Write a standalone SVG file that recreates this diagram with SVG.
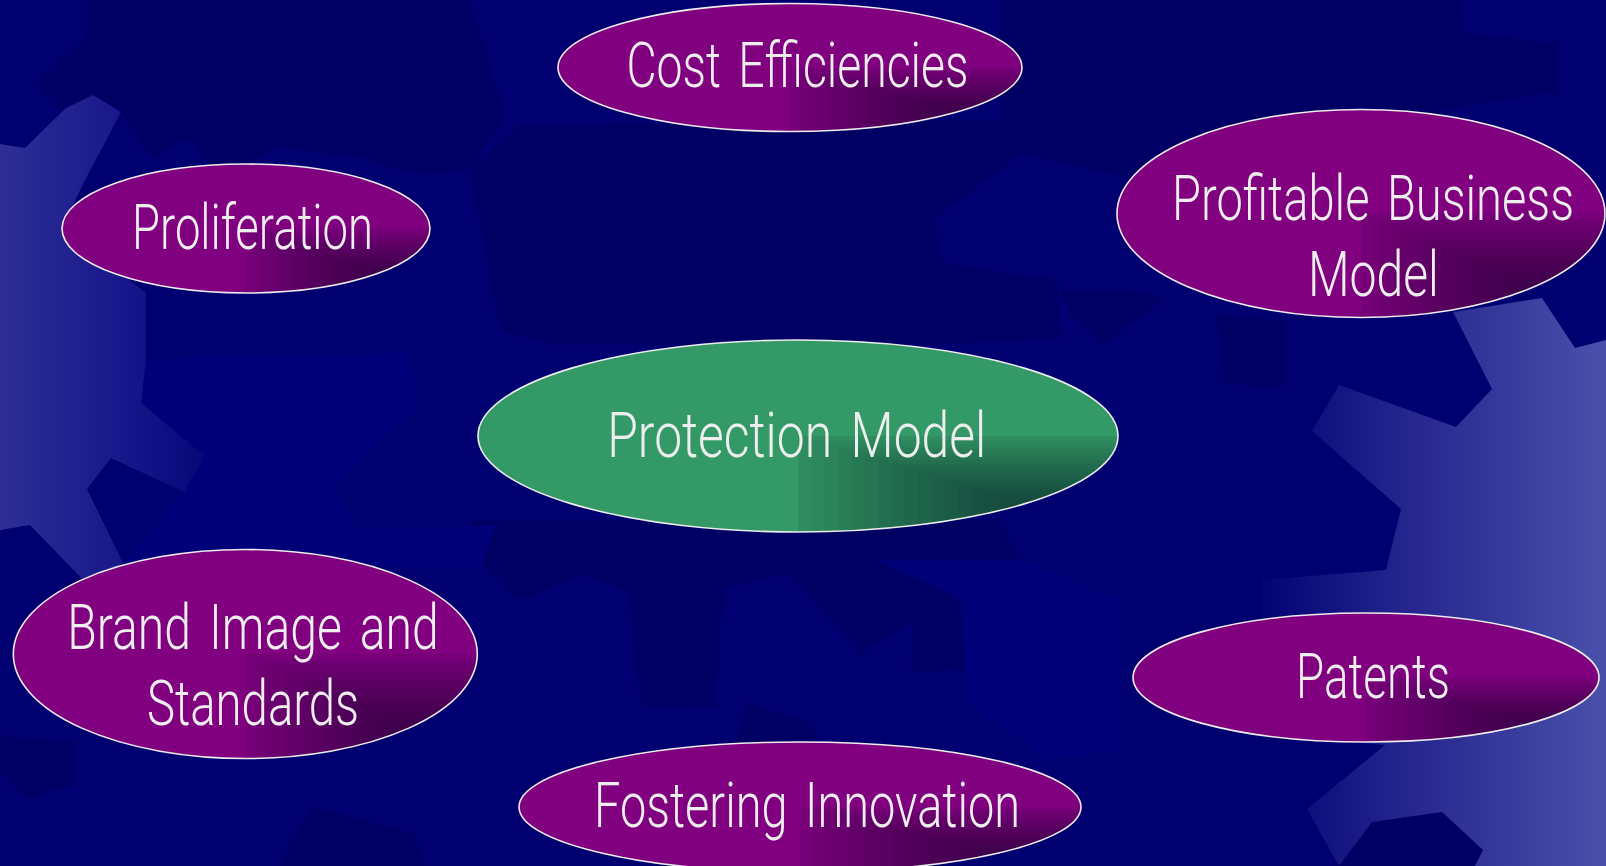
<svg xmlns="http://www.w3.org/2000/svg" xmlns:xlink="http://www.w3.org/1999/xlink" width="1606" height="866" viewBox="0 0 1606 866">
<style>
.dk{fill:#000064}
.lt{fill:#000078}
.pu{fill:#800080}
.gr{fill:#339966}
.ol{fill:none;stroke:#ececec;stroke-width:1.6}
.t{font-family:Roboto,"Liberation Sans",Arial,sans-serif;font-weight:300;font-size:63px;word-spacing:8px;fill:#eeeeee;text-anchor:middle}
</style>
<defs>
<linearGradient id="lg" gradientUnits="userSpaceOnUse" x1="0" y1="0" x2="235" y2="0">
<stop offset="0" stop-color="#2e2e96"/>
<stop offset="0.55" stop-color="#16168a"/>
<stop offset="1" stop-color="#000070"/>
</linearGradient>
<linearGradient id="rg" gradientUnits="userSpaceOnUse" x1="1250" y1="0" x2="1606" y2="0">
<stop offset="0" stop-color="#000072"/>
<stop offset="0.4" stop-color="#22228c"/>
<stop offset="1" stop-color="#4a50aa"/>
</linearGradient>
<clipPath id="uc"><circle cx="0" cy="0" r="1"/></clipPath>
<g id="shade" fill="#00001a">
<rect x="0" y="0" width="1" height="1" fill-opacity="0.08"/>
<rect x="0.042" y="0.042" width="0.958" height="0.958" fill-opacity="0.036"/>
<rect x="0.083" y="0.083" width="0.917" height="0.917" fill-opacity="0.036"/>
<rect x="0.125" y="0.125" width="0.875" height="0.875" fill-opacity="0.036"/>
<rect x="0.167" y="0.167" width="0.833" height="0.833" fill-opacity="0.036"/>
<rect x="0.208" y="0.208" width="0.792" height="0.792" fill-opacity="0.036"/>
<rect x="0.25" y="0.25" width="0.75" height="0.75" fill-opacity="0.036"/>
<rect x="0.292" y="0.292" width="0.708" height="0.708" fill-opacity="0.036"/>
<rect x="0.333" y="0.333" width="0.667" height="0.667" fill-opacity="0.036"/>
<rect x="0.375" y="0.375" width="0.625" height="0.625" fill-opacity="0.036"/>
<rect x="0.417" y="0.417" width="0.583" height="0.583" fill-opacity="0.036"/>
<rect x="0.458" y="0.458" width="0.542" height="0.542" fill-opacity="0.036"/>
<rect x="0.5" y="0.5" width="0.5" height="0.5" fill-opacity="0.036"/>
<rect x="0.542" y="0.542" width="0.458" height="0.458" fill-opacity="0.036"/>
<rect x="0.583" y="0.583" width="0.417" height="0.417" fill-opacity="0.036"/>
<rect x="0.625" y="0.625" width="0.375" height="0.375" fill-opacity="0.036"/>
<rect x="0.667" y="0.667" width="0.333" height="0.333" fill-opacity="0.036"/>
<rect x="0.708" y="0.708" width="0.292" height="0.292" fill-opacity="0.036"/>
<rect x="0.75" y="0.75" width="0.25" height="0.25" fill-opacity="0.036"/>
<rect x="0.792" y="0.792" width="0.208" height="0.208" fill-opacity="0.036"/>
<rect x="0.833" y="0.833" width="0.167" height="0.167" fill-opacity="0.036"/>
<rect x="0.875" y="0.875" width="0.125" height="0.125" fill-opacity="0.036"/>
<rect x="0.917" y="0.917" width="0.083" height="0.083" fill-opacity="0.036"/>
<rect x="0.958" y="0.958" width="0.042" height="0.042" fill-opacity="0.036"/>
</g>
</defs>

<g id="background">
<rect x="0" y="0" width="1606" height="866" fill="#000070"/>
<polygon class="dk" points="86,0 470,0 505,115 470,170 420,175 357,157 275,147 221,180 187,137 154,160 121,112 93,95 60,110 36,83 86,37"/>
<polygon class="dk" points="520,125 1000,120 1022,153 934,218 943,263 1058,280 1059,338 930,345 560,345 500,330 470,170"/>
<polygon class="dk" points="1000,0 1460,0 1464,33 1557,44 1558,91 1467,105 1180,190 1022,153 1000,120"/>
<polygon class="dk" points="1217,315 1285,320 1283,387 1223,384"/>
<polygon class="dk" points="1060,290 1071,315 1105,345 1164,298 1130,290"/>
<polygon class="dk" points="470,520 1000,520 1020,560 911,623 862,653 835,625 788,572 724,588 715,708 641,705 628,590 581,575 520,600 480,560"/>
<polygon class="dk" points="913,603 960,600 965,670 911,672"/>
<polygon class="dk" points="746,703 813,723 820,748 735,745"/>
<polygon class="dk" points="0,735 77,743 75,784 30,798 0,773"/>
<polygon class="dk" points="280,866 289,845 311,806 414,834 425,866"/>
<polygon class="lt" points="146,359 411,353 416,409 332,486 357,530 495,525 480,570 250,560 123,563 184,492 205,456 141,403"/>
<polygon class="lt" points="875,560 1020,560 1120,600 1120,750 1050,760 965,700 965,600"/>
<polygon fill="url(#lg)" points="0,144 25,148 66,108 93,95 121,112 84,182 62,228 146,293 146,359 141,403 205,456 184,492 111,458 87,489 123,563 88,585 30,525 0,530"/>
<polygon fill="url(#rg)" points="1606,340 1575,348 1542,298 1453,312 1492,389 1456,427 1339,385 1312,431 1401,509 1386,570 1260,580 1262,640 1330,740 1385,745 1307,809 1339,866 1606,866"/>
<polygon class="dk" points="1339,866 1372,822 1442,812 1483,850 1475,866"/>
</g>

<g id="connectors"></g>

<g id="node-cost">
<ellipse class="pu" cx="790" cy="67.5" rx="232" ry="64"/>
<use xlink:href="#shade" href="#shade" transform="translate(790,67.5) scale(232,64)" clip-path="url(#uc)"/>
<ellipse class="ol" cx="790" cy="67.5" rx="232" ry="64"/>
<text class="t" x="797.5" y="87.3" textLength="342" lengthAdjust="spacingAndGlyphs">Cost Efficiencies</text>
</g>

<g id="node-proliferation">
<ellipse class="pu" cx="246" cy="228.5" rx="184" ry="64.5"/>
<use xlink:href="#shade" href="#shade" transform="translate(246,228.5) scale(184,64.5)" clip-path="url(#uc)"/>
<ellipse class="ol" cx="246" cy="228.5" rx="184" ry="64.5"/>
<text class="t" x="252.5" y="249" textLength="241" lengthAdjust="spacingAndGlyphs">Proliferation</text>
</g>

<g id="node-profitable">
<ellipse class="pu" cx="1361" cy="213.5" rx="244" ry="104"/>
<use xlink:href="#shade" href="#shade" transform="translate(1361,213.5) scale(244,104)" clip-path="url(#uc)"/>
<ellipse class="ol" cx="1361" cy="213.5" rx="244" ry="104"/>
<text class="t" x="1373" y="219.5" textLength="402" lengthAdjust="spacingAndGlyphs">Profitable Business</text>
<text class="t" x="1373.4" y="295.5" textLength="131" lengthAdjust="spacingAndGlyphs">Model</text>
</g>

<g id="node-protection">
<ellipse class="gr" cx="798" cy="436" rx="320" ry="96"/>
<use xlink:href="#shade" href="#shade" transform="translate(798,436) scale(320,96)" clip-path="url(#uc)"/>
<ellipse class="ol" cx="798" cy="436" rx="320" ry="96"/>
<text class="t" x="796.7" y="456.7" textLength="379" lengthAdjust="spacingAndGlyphs">Protection Model</text>
</g>

<g id="node-brand">
<ellipse class="pu" cx="245.3" cy="654" rx="232" ry="104.5"/>
<use xlink:href="#shade" href="#shade" transform="translate(245.3,654) scale(232,104.5)" clip-path="url(#uc)"/>
<ellipse class="ol" cx="245.3" cy="654" rx="232" ry="104.5"/>
<text class="t" x="253" y="649" textLength="371.5" lengthAdjust="spacingAndGlyphs">Brand Image and</text>
<text class="t" x="253" y="724.6" textLength="212" lengthAdjust="spacingAndGlyphs">Standards</text>
</g>

<g id="node-patents">
<ellipse class="pu" cx="1366" cy="677.5" rx="233" ry="64.5"/>
<use xlink:href="#shade" href="#shade" transform="translate(1366,677.5) scale(233,64.5)" clip-path="url(#uc)"/>
<ellipse class="ol" cx="1366" cy="677.5" rx="233" ry="64.5"/>
<text class="t" x="1373" y="697.5" textLength="154" lengthAdjust="spacingAndGlyphs">Patents</text>
</g>

<g id="node-fostering">
<ellipse class="pu" cx="800" cy="807" rx="281" ry="65"/>
<use xlink:href="#shade" href="#shade" transform="translate(800,807) scale(281,65)" clip-path="url(#uc)"/>
<ellipse class="ol" cx="800" cy="807" rx="281" ry="65"/>
<text class="t" x="807" y="826.7" textLength="426" lengthAdjust="spacingAndGlyphs">Fostering Innovation</text>
</g>
</svg>
